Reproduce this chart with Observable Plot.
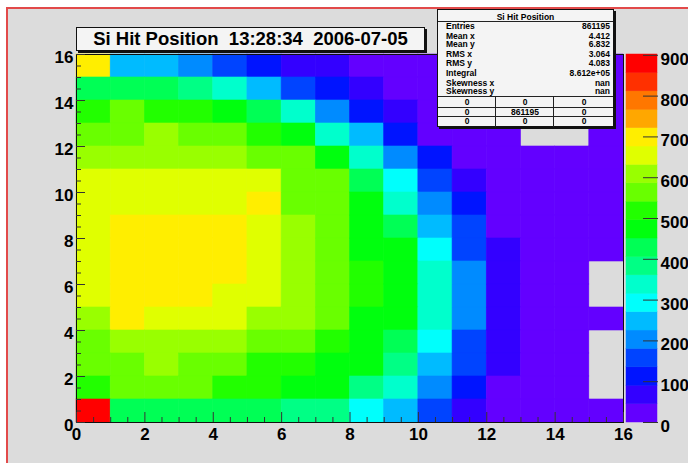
<!DOCTYPE html>
<html><head><meta charset="utf-8">
<script src="https://cdn.jsdelivr.net/npm/d3@7"></script>
<script src="https://cdn.jsdelivr.net/npm/@observablehq/plot@0.6"></script>
<style>
html,body{margin:0;padding:0;background:#fff;}
#root{position:relative;width:688px;height:463px;overflow:hidden;background:#fff;font-family:"Liberation Sans",Arial,Helvetica,sans-serif;}
#canvas{position:absolute;left:6px;top:7px;width:720px;height:500px;background:#dcdcdc;border-left:2px solid #e24a4a;border-top:2px solid #e24a4a;box-sizing:border-box;}
.layer{position:absolute;left:0;top:0;}
#title{position:absolute;left:76px;top:27px;width:349px;height:24px;box-sizing:border-box;background:#f4f4f4;border:1px solid #111;box-shadow:2px 2px 0 #111;text-align:center;font-weight:bold;font-size:18.5px;line-height:22px;white-space:pre;color:#000;}
#stats{position:absolute;left:437px;top:9px;width:177px;height:118px;box-sizing:border-box;background:#f4f4f4;border:1px solid #111;box-shadow:2px 2px 0 #111;font-weight:bold;font-size:8.5px;color:#000;}
#stats .t{position:absolute;line-height:8px;height:8px;white-space:pre;}
#stats .hl{position:absolute;left:0;right:0;height:0;border-top:1px solid #222;}
#stats .vl{position:absolute;width:0;border-left:1px solid #222;}
</style></head>
<body>
<div id="root">
  <div id="canvas"></div>
  <div id="plot" class="layer"></div>
  <div id="cbar" class="layer" style="left:626px"></div>
  <div id="title"></div>
  <div id="stats"></div>
</div>
<script>
// ---- data ----
const titleText = "Si Hit Position  13:28:34  2006-07-05";
const nBinsX = 16, nBinsY = 16;
const zMax = 902;           // maximum bin content (top of colour bar)
const nLevels = 20;         // ROOT contour levels
// ROOT "pretty" palette colours picked for 20 contours (low -> high)
const paletteColors = ["#6300ff","#3300ff","#0014ff","#0044ff","#008bff","#00bbff","#00fffc","#00ffcc","#00ff85","#00ff55",
                       "#00ff0e","#22ff00","#69ff00","#99ff00","#e0ff00","#ffee00","#ffa700","#ff7700","#ff3000","#ff0000"];
const xTickLabels = [0,2,4,6,8,10,12,14,16];
const yTickLabels = [0,2,4,6,8,10,12,14,16];
const zTickLabels = [0,100,200,300,400,500,600,700,800,900];
// bin contents, rows listed from y = 15 (top) down to y = 0 (bottom); 0 = empty bin
const hitCounts = [
  [702,248,252,205,162,118, 68, 72, 22, 20, 18, 15, 12, 10,  9,  8],
  [428,432,425,380,338,246,158,112, 66, 36, 26, 20, 16, 14, 12, 10],
  [522,560,518,515,470,428,342,205,114, 72, 38, 26, 20, 16, 14, 12],
  [566,570,610,563,560,517,472,336,248,116, 40, 28, 22,  0,  0, 12],
  [612,608,615,610,606,566,562,474,338,206,112, 38, 24, 18, 16, 14],
  [655,660,662,658,656,652,568,566,428,296,160, 70, 30, 20, 16, 14],
  [656,662,664,660,658,704,566,562,472,340,204,114, 34, 20, 16, 14],
  [658,698,704,706,700,654,610,564,470,426,248,160, 38, 22, 18, 15],
  [656,702,708,710,702,656,608,566,476,472,294,162, 68, 24, 18, 15],
  [654,700,710,712,698,656,610,562,518,472,338,206, 70, 24, 18,  0],
  [652,698,706,702,660,654,608,560,516,470,340,204, 68, 22, 16,  0],
  [612,700,660,662,656,612,606,560,474,470,336,202, 66, 20, 14, 12],
  [566,610,612,614,608,564,562,520,472,430,296,160, 64, 18, 14,  0],
  [562,566,612,568,564,518,516,472,470,384,250,158, 62, 18, 12,  0],
  [520,566,564,562,520,516,474,470,386,338,204,112, 40, 16, 12,  0],
  [902,430,432,428,430,426,384,382,294,248,158, 68, 30, 16, 12, 10]
];
const statsLabels = ["Entries","Mean x","Mean y","RMS x","RMS y","Integral","Skewness x","Skewness y"];
const statsValues = ["861195","4.412","6.832","3.064","4.083","8.612e+05","nan","nan"];
const statsTable = [["0","0","0"],["0","861195","0"],["0","0","0"]];

// ---- build ----
const cells = [];
hitCounts.forEach((row, r) => row.forEach((v, c) => { if (v > 0) cells.push({x: c, y: nBinsY - 1 - r, v}); }));
const levels = d3.range(1, nLevels).map(i => i * zMax / nLevels);
const font = '"Liberation Sans",Arial,Helvetica,sans-serif';
const minorX = d3.range(0, nBinsX + 0.01, 0.5).filter(v => v % 2 !== 0);
const minorY = d3.range(0, nBinsY + 0.01, 0.5).filter(v => v % 2 !== 0);

const W = 688, H = 463, mT = 54, mB = 41;
const main = Plot.plot({
  width: W, height: H,
  marginLeft: 76, marginRight: 65, marginTop: mT, marginBottom: mB,
  style: {background: "transparent", fontFamily: font, fontWeight: "bold", fontSize: "17px", color: "#000"},
  x: {domain: [0, nBinsX], label: null},
  y: {domain: [0, nBinsY], label: null},
  color: {type: "threshold", domain: levels, range: paletteColors},
  marks: [
    Plot.rect(cells, {x1: "x", x2: d => d.x + 1, y1: "y", y2: d => d.y + 1, fill: "v", stroke: "v", strokeWidth: 0.6}),
    Plot.frame({stroke: "#111", strokeWidth: 1}),
    Plot.axisX(minorX, {tickSize: -5, tickFormat: () => "", stroke: "#333", label: null}),
    Plot.axisX(xTickLabels, {tickSize: -10, tickFormat: () => "", stroke: "#333", label: null}),
    Plot.axisX(xTickLabels, {tickSize: 0, tickPadding: 5, fontSize: 17, fontWeight: "bold", fill: "#000", label: null}),
    Plot.axisY(minorY, {tickSize: -5, tickFormat: () => "", stroke: "#333", label: null}),
    Plot.axisY(yTickLabels, {tickSize: -9, tickFormat: () => "", stroke: "#333", label: null}),
    Plot.axisY(yTickLabels, {tickSize: 0, tickPadding: 3, dy: 3, fontSize: 17, fontWeight: "bold", fill: "#000", label: null})
  ]
});
document.getElementById("plot").appendChild(main);

const bands = d3.range(nLevels).map(i => ({lo: i * zMax / nLevels, hi: (i + 1) * zMax / nLevels, c: paletteColors[i]}));
const cbar = Plot.plot({
  width: 62, height: H,
  marginLeft: 0, marginRight: 31, marginTop: mT, marginBottom: mB,
  style: {background: "transparent", fontFamily: font, fontWeight: "bold", fontSize: "17px", color: "#000", overflow: "visible"},
  y: {domain: [0, zMax], label: null},
  marks: [
    Plot.rect(bands, {y1: "lo", y2: "hi", fill: "c", stroke: "c", strokeWidth: 0.5}),
    Plot.axisY(zTickLabels, {anchor: "right", tickSize: -15, tickFormat: () => "", stroke: "#333", label: null}),
    Plot.axisY(zTickLabels, {anchor: "right", tickSize: 0, tickPadding: 3, dy: 4, fontSize: 17, fontWeight: "bold", fill: "#000", label: null})
  ]
});
document.getElementById("cbar").appendChild(cbar);

document.getElementById("title").textContent = titleText;

// stats box
const st = document.getElementById("stats");
function addText(txt, style) {
  const s = document.createElement("div");
  s.className = "t"; s.textContent = txt;
  Object.assign(s.style, style); st.appendChild(s);
}
function addLine(cls, style) {
  const d = document.createElement("div"); d.className = cls; Object.assign(d.style, style); st.appendChild(d);
}
addText("Si Hit Position", {left: "0px", right: "0px", textAlign: "center", top: "2.5px"});
addLine("hl", {top: "11px"});
const rowCenters = [16, 25.5, 34, 44, 52.5, 62.5, 72.5, 81];
statsLabels.forEach((l, i) => {
  addText(l, {left: "8px", top: (rowCenters[i] - 4) + "px"});
  addText(statsValues[i], {right: "3px", top: (rowCenters[i] - 4) + "px", textAlign: "right"});
});
addLine("hl", {top: "85.5px"});
addLine("hl", {top: "96.5px"});
addLine("hl", {top: "106px"});
addLine("vl", {left: "57px", top: "85.5px", height: "31px"});
addLine("vl", {left: "115px", top: "85.5px", height: "31px"});
const colCenters = [29, 87, 146];
const tableCenters = [91.5, 101.5, 111];
statsTable.forEach((row, r) => row.forEach((v, c) => {
  addText(v, {left: (colCenters[c] - 30) + "px", width: "60px", textAlign: "center", top: (tableCenters[r] - 4) + "px"});
}));
</script>
</body></html>
